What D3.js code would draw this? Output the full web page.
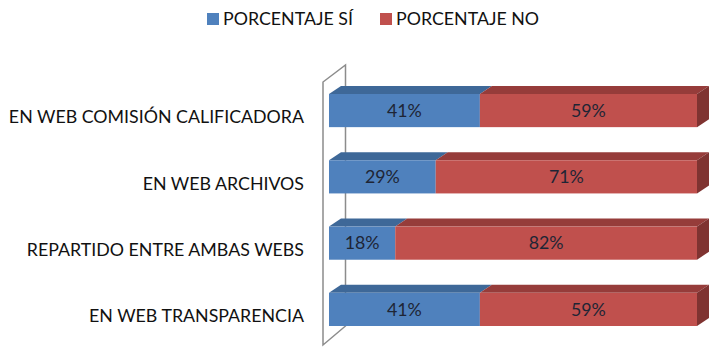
<!DOCTYPE html>
<html>
<head>
<meta charset="utf-8">
<script src="https://cdn.jsdelivr.net/npm/d3@7"></script>
<style>
  body { margin: 0; background: #fff; }
  text { font-family: Lato, "Open Sans", sans-serif; }
</style>
</head>
<body>
<div id="chart"></div>
<script>
var categories = ["EN WEB COMISIÓN CALIFICADORA", "EN WEB ARCHIVOS", "REPARTIDO ENTRE AMBAS WEBS", "EN WEB TRANSPARENCIA"];
var valuesSi = [41, 29, 18, 41];
var valuesNo = [59, 71, 82, 59];
var seriesNames = ["PORCENTAJE SÍ", "PORCENTAJE NO"];

var width = 712, height = 354;
var depthX = 12, depthY = 8;          // bar depth offset
var wallDX = 22.5, wallDY = 17;       // wall depth offset
var fontSize = 17.8;

var colors = {
    si: { front: "#4f81bd", top: "#3e6898", side: "#35597f" },
    no: { front: "#c0504d", top: "#963c3a", side: "#7f3331" }
};

var svg = d3.select("#chart").append("svg")
    .attr("width", width)
    .attr("height", height);

var x = d3.scaleLinear()
    .domain([0, 100])
    .range([329, 697]);

var y = d3.scaleBand()
    .domain(categories)
    .range([94, 326])
    .paddingInner(0.5)
    .paddingOuter(0);

var data = categories.map(function(c, i) {
    return { cat: c, si: valuesSi[i], no: valuesNo[i] };
});

// wall outline
var wx0 = x(0) - 6, wy0 = y(categories[0]) - 12;
var wy1 = y(categories[categories.length - 1]) + y.bandwidth() + 19;
svg.append("path")
    .attr("d", "M" + wx0 + "," + wy1 + " L" + wx0 + "," + wy0 +
        " L" + (wx0 + wallDX) + "," + (wy0 - wallDY) +
        " L" + (wx0 + wallDX) + "," + (wy1 - wallDY - 2) + " Z")
    .attr("fill", "none")
    .attr("stroke", "#8c8c8c")
    .attr("stroke-width", 1.5);

function poly(pts) {
    return "M" + pts.map(function(p) { return p[0] + "," + p[1]; }).join(" L") + " Z";
}

var bars = svg.selectAll(".bar")
    .data(data)
    .enter()
    .append("g")
    .attr("class", "bar");

bars.each(function(d) {
    var g = d3.select(this);
    var yt = y(d.cat), yb = yt + y.bandwidth();
    var x0 = x(0), x1 = x(d.si), x2 = x(d.si + d.no);

    // top faces
    g.append("path")
        .attr("d", poly([[x0, yt], [x1, yt], [x1 + depthX, yt - depthY], [x0 + depthX, yt - depthY]]))
        .attr("fill", colors.si.top);
    g.append("path")
        .attr("d", poly([[x1, yt], [x2, yt], [x2 + depthX, yt - depthY], [x1 + depthX, yt - depthY]]))
        .attr("fill", colors.no.top);
    // right side face
    g.append("path")
        .attr("d", poly([[x2, yt], [x2 + depthX, yt - depthY], [x2 + depthX, yb - depthY], [x2, yb]]))
        .attr("fill", colors.no.side);
    // front faces
    g.append("rect")
        .attr("x", x0).attr("y", yt)
        .attr("width", x1 - x0).attr("height", y.bandwidth())
        .attr("fill", colors.si.front);
    g.append("rect")
        .attr("x", x1).attr("y", yt)
        .attr("width", x2 - x1).attr("height", y.bandwidth())
        .attr("fill", colors.no.front);

    // value labels
    g.append("text")
        .attr("x", (x0 + x1) / 2)
        .attr("y", yt + y.bandwidth() / 2)
        .attr("dy", "0.35em")
        .attr("text-anchor", "middle")
        .attr("font-size", fontSize)
        .attr("fill", "#1e2535")
        .text(d.si + "%");
    g.append("text")
        .attr("x", (x1 + x2) / 2)
        .attr("y", yt + y.bandwidth() / 2)
        .attr("dy", "0.35em")
        .attr("text-anchor", "middle")
        .attr("font-size", fontSize)
        .attr("fill", "#1e2535")
        .text(d.no + "%");
});

// category labels
svg.selectAll(".cat-label")
    .data(categories)
    .enter()
    .append("text")
    .attr("class", "cat-label")
    .attr("x", 304)
    .attr("y", function(d) { return y(d) + y.bandwidth() / 2 + 6.5; })
    .attr("dy", "0.35em")
    .attr("text-anchor", "end")
    .attr("font-size", fontSize)
    .attr("fill", "#111")
    .text(function(d) { return d; });

// legend
var legendX = [207, 380];
var legendCol = [colors.si.front, colors.no.front];
var legend = svg.selectAll(".legend")
    .data(seriesNames)
    .enter()
    .append("g")
    .attr("class", "legend")
    .attr("transform", function(d, i) { return "translate(" + legendX[i] + ",13)"; });
legend.append("rect")
    .attr("width", 12).attr("height", 12)
    .attr("fill", function(d, i) { return legendCol[i]; });
legend.append("text")
    .attr("x", 16)
    .attr("y", 6)
    .attr("dy", "0.35em")
    .attr("font-size", fontSize)
    .attr("fill", "#111")
    .text(function(d) { return d; });
</script>
</body>
</html>
